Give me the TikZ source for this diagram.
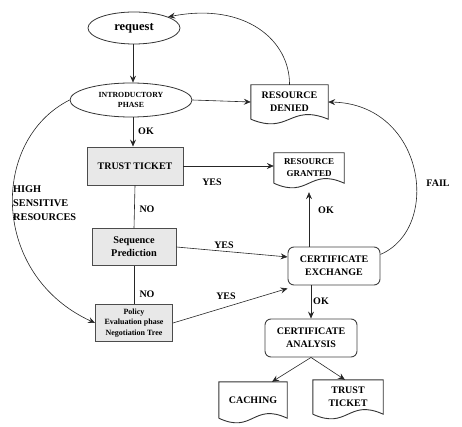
\documentclass[tikz,border=0pt]{standalone}
\usepackage{fontspec}
\setmainfont{Liberation Serif}
\usetikzlibrary{arrows.meta,shapes.geometric,calc}
\newcommand\docoutline[1]{%
  \draw[docline] (#1.south west) -- (#1.north west) -- (#1.north east) -- (#1.south east)
   .. controls ($(#1.south)+(0,-16)$) and ($(#1.south)+(0,16)$) .. (#1.south west);}
\begin{document}
\begin{tikzpicture}[x=1pt,y=-1pt,
  font=\bfseries\fontsize{10}{12.5}\selectfont,
  ell/.style={ellipse, draw=black!80, line width=0.8pt, align=center, inner sep=0pt},
  gbox/.style={rectangle, draw=black!70, line width=0.9pt, fill=black!9, align=center, inner sep=0pt},
  rbox/.style={rectangle, rounded corners=6pt, draw=black!75, line width=0.9pt, align=center, inner sep=0pt, font=\bfseries\fontsize{10}{13}\selectfont},
  docn/.style={rectangle, align=center, inner sep=0pt},
  docline/.style={draw=black!80, line width=0.9pt},
  conn/.style={draw=black!85, line width=0.6pt, -{Stealth[length=7pt,width=6pt,inset=2.5pt]}},
  plain/.style={draw=black!85, line width=0.6pt},
  lbl/.style={inner sep=0pt}
]
\useasboundingbox (0,0) rectangle (462,427);

% nodes
\node[ell, minimum width=92pt, minimum height=32pt, font=\bfseries\fontsize{12.5}{14}\selectfont] (req) at (134,28) {request};
\node[ell, minimum width=122pt, minimum height=34pt, font=\bfseries\fontsize{7.8}{10.5}\selectfont] (intro) at (131,100) {INTRODUCTORY\\PHASE};
\node[gbox, minimum width=96pt, minimum height=38pt] (tt) at (135,166) {TRUST TICKET};
\node[gbox, minimum width=84pt, minimum height=37pt, font=\bfseries\fontsize{10.3}{13}\selectfont] (sp) at (134,247) {Sequence\\Prediction};
\node[gbox, minimum width=77pt, minimum height=37pt, font=\bfseries\fontsize{8}{10.5}\selectfont] (pol) at (134,323) {Policy\\Evaluation phase\\Negotiation Tree};
\node[docn, minimum width=77pt, minimum height=34pt, font=\bfseries\fontsize{10}{13}\selectfont] (denied) at (289.5,102) {RESOURCE\\DENIED};
\node[docn, minimum width=70pt, minimum height=30pt, font=\bfseries\fontsize{9}{12}\selectfont] (granted) at (309,168) {RESOURCE\\GRANTED};
\node[rbox, minimum width=92pt, minimum height=38pt] (ce) at (334,266) {CERTIFICATE\\EXCHANGE};
\node[rbox, minimum width=92pt, minimum height=38pt] (ca) at (311,338) {CERTIFICATE\\ANALYSIS};
\node[docn, minimum width=68pt, minimum height=36pt] (cach) at (253,400) {CACHING};
\node[docn, minimum width=70pt, minimum height=34pt, font=\bfseries\fontsize{10}{13}\selectfont] (tt2) at (348,397) {TRUST\\TICKET};

\docoutline{denied}
\docoutline{granted}
\docoutline{cach}
\docoutline{tt2}

% connectors
\draw[conn] (req.south -| intro.north) ++(2,0) coordinate (rs) -- (rs |- intro.north);
\draw[conn] (intro.south) ++(2,0) coordinate (is) -- (is |- tt.north);
\draw[conn] (intro.east) -- (denied.west);
\draw[conn] (denied.north) .. controls (290,40) and (245,2) .. (req.18);
\draw[conn] (tt.east) -- (granted.west |- tt.east);
\draw[plain] (tt.south) -- (sp.north);
\draw[plain] (sp.south) -- (pol.north);
\draw[conn] (sp.east) -- (ce.169);
\draw[conn] (pol.east) -- ([yshift=-3pt]ce.south west);
\draw[conn, shorten >=9pt] (ce.north -| granted.south) -- (granted.south);
\draw[conn] (ce.south -| ca.north) -- (ca.north);
\draw[conn] (ce.14) .. controls (442,228) and (425,104) .. (denied.east);
\draw[conn] (intro.west) .. controls (-10,140) and (-10,275) .. (pol.west);
\draw[conn] (ca.south) -- ([xshift=19pt]cach.north);
\draw[conn] (ca.south) -- ([xshift=-3pt]tt2.north);

% labels
\node[lbl] (lok1) at (146,131) {OK};
\node[lbl] (lyes1) at (212,182) {YES};
\node[lbl] (lno1) at (147,209) {NO};
\node[lbl] (lno2) at (147,294) {NO};
\node[lbl] (lyes2) at (224,245) {YES};
\node[lbl] (lyes3) at (226,296) {YES};
\node[lbl] (lok2) at (326,210) {OK};
\node[lbl] (lok3) at (321,301) {OK};
\node[lbl] (lfail) at (438,183) {FAIL};
\node[lbl, anchor=west, align=left, font=\bfseries\fontsize{10.3}{14}\selectfont] (lhigh) at (13,203) {HIGH\\SENSITIVE\\RESOURCES};
\end{tikzpicture}
\end{document}
